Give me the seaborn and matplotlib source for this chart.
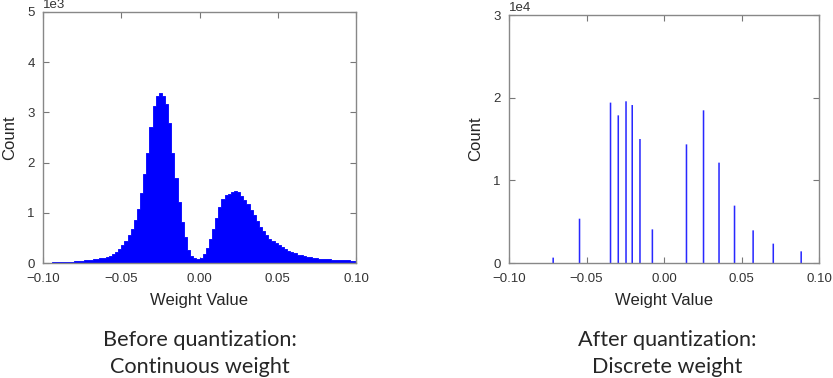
import numpy as np
import pandas as pd
import matplotlib
matplotlib.use("Agg")
import matplotlib.pyplot as plt
import seaborn as sns

# Continuous weights: histogram heights (bin width 0.002, -0.10..0.10)
cont_counts = [
    5, 6, 8, 10, 12, 14, 17, 20, 24, 28,
    32, 37, 43, 50, 56, 62, 70, 80, 90, 102,
    110, 135, 170, 220, 280, 350, 440, 550, 680, 850,
    1080, 1400, 1780, 2200, 2700, 3130, 3330, 3390, 3330, 3170,
    2780, 2200, 1700, 1220, 820, 510, 260, 140, 90, 78,
    95, 180, 300, 480, 680, 900, 1120, 1280, 1345, 1380,
    1410, 1440, 1410, 1340, 1260, 1170, 1060, 950, 830, 720,
    640, 555, 485, 440, 390, 350, 315, 280, 245, 210,
    190, 165, 150, 130, 118, 110, 100, 95, 88, 80,
    75, 70, 66, 62, 58, 55, 52, 50, 47, 45,
]
cont_centers = np.round(np.arange(-0.099, 0.1, 0.002), 3)

# Quantized weights: discrete levels and their counts
quant_levels = [-0.0720, -0.0541, -0.0346, -0.0298, -0.0247, -0.0208, -0.0158, -0.0076,
                0.0143, 0.0255, 0.0350, 0.0451, 0.0571, 0.0705, 0.0884]
quant_counts = [650, 5360, 19400, 17860, 19560, 19110, 15000, 4070,
                14350, 18470, 12140, 6940, 3950, 2340, 1410]

xticks = [-0.10, -0.05, 0.00, 0.05, 0.10]
captions = [("Before quantization:", "Continuous weight"),
            ("After quantization:", "Discrete weight")]

sns.set_style("ticks")
plt.rcParams["font.family"] = ["Liberation Sans", "DejaVu Sans"]
plt.rcParams["xtick.direction"] = "in"
plt.rcParams["ytick.direction"] = "in"
plt.rcParams["xtick.top"] = True
plt.rcParams["ytick.right"] = True

fig = plt.figure(figsize=(8.33, 3.78), dpi=100)
ax1 = fig.add_axes([43 / 833, 1 - 263 / 378, 313 / 833, 251 / 378])
ax2 = fig.add_axes([509 / 833, 1 - 263 / 378, 310 / 833, 248 / 378])

df_c = pd.DataFrame({"w": cont_centers, "n": cont_counts})
sns.histplot(data=df_c, x="w", weights="n", binwidth=0.002, binrange=(-0.1, 0.1),
             element="step", fill=True, color="#0000ff", alpha=1,
             edgecolor="#0000ff", linewidth=0.6, ax=ax1)

df_q = pd.DataFrame({"w": quant_levels, "n": quant_counts})
sns.histplot(data=df_q, x="w", weights="n", binwidth=0.001, binrange=(-0.1, 0.1),
             color="#2828ff", alpha=1, edgecolor="none", linewidth=0,
             snap=False, ax=ax2)

for ax, ymax, step in [(ax1, 5000, 1000), (ax2, 30000, 10000)]:
    ax.set_xlim(-0.1, 0.1)
    ax.set_ylim(0, ymax)
    ax.set_xticks(xticks)
    ax.set_xticklabels([f"{t:.2f}".replace("-", "\u2212") for t in xticks])
    ax.set_yticks(np.arange(0, ymax + 1, step))
    ax.ticklabel_format(axis="y", style="sci", scilimits=(0, 0))
    ax.tick_params(axis="both", length=4, width=0.8, color="#777777",
                   labelsize=9.5, labelcolor="#333333")
    ax.tick_params(axis="x", pad=7)
    ax.tick_params(axis="y", pad=6)
    for sp in ax.spines.values():
        sp.set_color("#888888")
        sp.set_linewidth(1.0)
    ax.yaxis.get_offset_text().set_fontsize(9.5)
    ax.yaxis.get_offset_text().set_color("#333333")
    ax.set_xlabel("Weight Value", fontsize=12, labelpad=6)
    ax.set_ylabel("Count", fontsize=12, labelpad=7)

for cx, (line1, line2) in zip([200, 667], captions):
    fig.text(cx / 833, 1 - 346 / 378, line1, ha="center", va="baseline",
             fontsize=15.6, family=["Lato", "DejaVu Sans"])
    fig.text(cx / 833, 1 - 373 / 378, line2, ha="center", va="baseline",
             fontsize=15.6, family=["Lato", "DejaVu Sans"])

fig.savefig("out.png", dpi=100)
